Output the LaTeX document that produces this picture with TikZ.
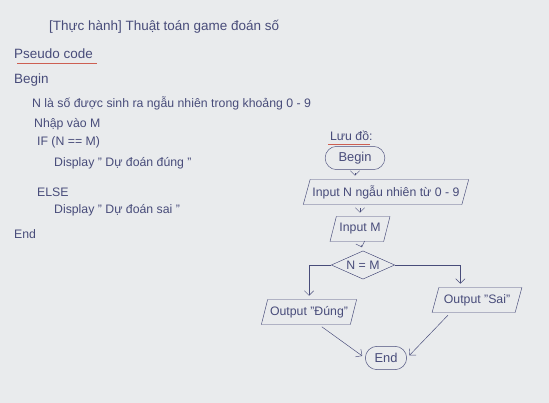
\documentclass[tikz,border=0pt]{standalone}
\usepackage{fontspec}
\setmainfont{Liberation Sans}
\usetikzlibrary{shapes.geometric,shapes.misc,arrows.meta}
\definecolor{ink}{RGB}{72,76,122}
\definecolor{paper}{RGB}{233,235,237}
\definecolor{redline}{RGB}{205,95,82}

\begin{document}
\begin{tikzpicture}[x=0.03cm,y=-0.03cm,
        txt/.style={anchor=west,text=ink,font=\fontsize{10.5}{12}\selectfont},
        bigtxt/.style={txt,font=\fontsize{11.5}{13}\selectfont},
        under/.style={draw=redline,line width=0.8pt},
        io/.style={draw=ink,text=ink,font=\fontsize{10.5}{12}\selectfont,trapezium,
            trapezium left angle=72,trapezium right angle=108,trapezium stretches=true,
            minimum height=0.75cm,inner xsep=2pt},
        term/.style={draw=ink,text=ink,font=\fontsize{11}{12}\selectfont,
            rounded rectangle,minimum height=0.7cm},
        test/.style={draw=ink,text=ink,font=\fontsize{10.5}{12}\selectfont,diamond,
            aspect=2.2,inner sep=0pt,minimum width=1.9cm,minimum height=0.85cm},
        arr/.style={draw=ink,-{Straight Barb[length=4pt]},shorten <=3pt,shorten >=3pt}]
        \fill[paper] (0,0) rectangle (549,403);

        % pseudo code
        \node[bigtxt] (title) at (45,27) {[Thực hành] Thuật toán game đoán số};
        \node[bigtxt] (pseudo) at (10,54) {Pseudo code};
        \draw[under] ([xshift=6pt]pseudo.south west) -- (pseudo.south east);
        \node[bigtxt] (pbegin) at (10,80) {Begin};
        \node[txt] (pline) at (28,103) {N là số được sinh ra ngẫu nhiên trong khoảng 0 - 9};
        \node[txt] (pinput) at (30,124) {Nhập vào M};
        \node[txt] (pif) at (33,142) {IF (N == M)};
        \node[txt] (pyes) at (50,163) {Display " Dự đoán đúng "};
        \node[txt] (pelse) at (33,192) {ELSE};
        \node[txt] (pno) at (50,210) {Display " Dự đoán sai "};
        \node[txt] (pend) at (10,234) {End};

        % flowchart
        \node[txt] (chart) at (326,136) {Lưu đồ:};
        \draw[under] ([xshift=2pt]chart.south west) -- ([xshift=-6pt]chart.south east);
        \node[term,inner xsep=10pt] (fbegin) at (355,158) {Begin};
        \node[io] (fin) at (386,192) {Input N ngẫu nhiên từ 0 - 9};
        \node[io,minimum width=1.8cm] (fim) at (360,229) {Input M};
        \node[test] (fcmp) at (363,265) {N = M};
        \node[io,minimum width=2.5cm] (fyes) at (309,312) {Output "Đúng"};
        \node[io,minimum width=2.7cm] (fno) at (477,300) {Output "Sai"};
        \node[term,inner xsep=7pt] (fend) at (386,358) {End};

        \draw[arr] (fbegin.south) -- (fbegin.south |- fin.north);
        \draw[arr] (fim.north |- fin.south) -- (fim.north);
        \draw[arr] (fim.south) -- (fcmp.north);
        \draw[arr,shorten <=0pt] (fcmp.west) -| (fyes.north);
        \draw[arr,shorten <=0pt] (fcmp.east) -| ([xshift=-0.5cm]fno.north);
        \draw[arr] ([xshift=0.3cm]fyes.south) -- (fend.west);
        \draw[arr] ([xshift=-0.8cm]fno.south) -- (fend.east);
    \end{tikzpicture}
\end{document}
